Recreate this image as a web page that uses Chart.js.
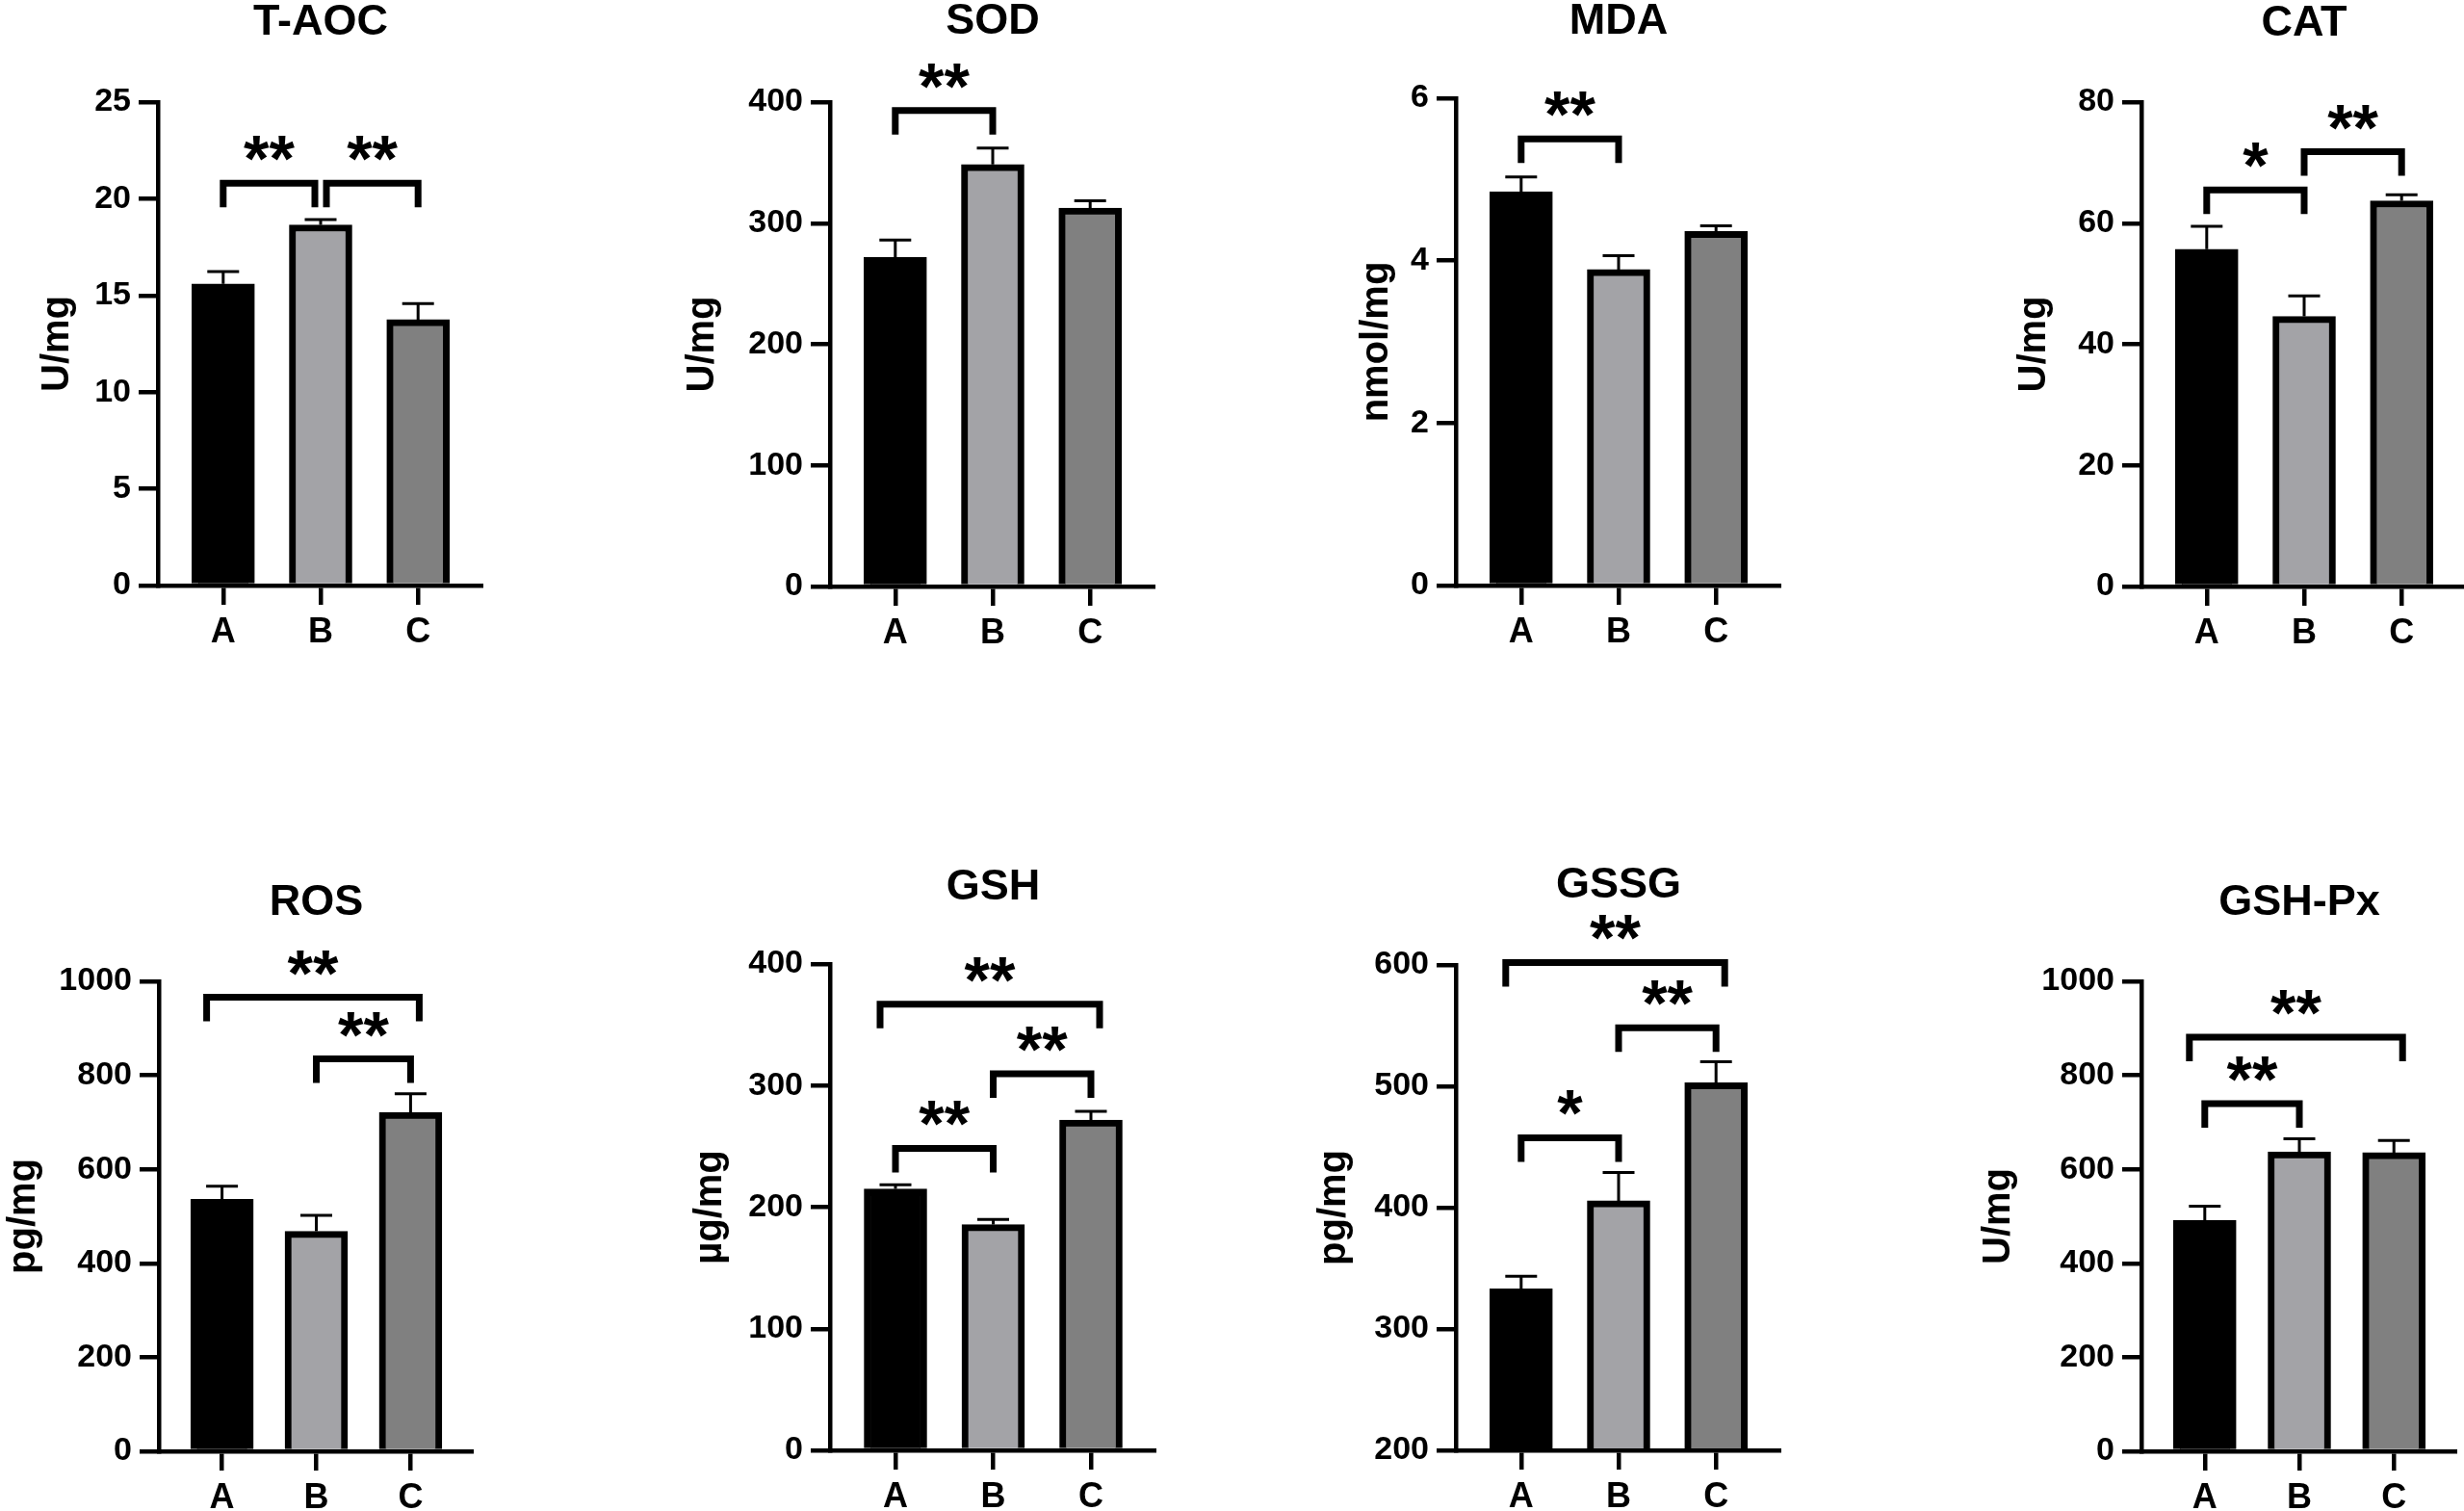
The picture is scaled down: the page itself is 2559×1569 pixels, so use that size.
<!DOCTYPE html>
<html>
<head>
<meta charset="utf-8">
<title>Oxidative stress panels</title>
<script src="https://cdn.jsdelivr.net/npm/chart.js@4.4.0/dist/chart.umd.min.js"></script>
<style>
  html, body { margin: 0; padding: 0; background: #fff; }
  body { position: relative; width: 2559px; height: 1569px; overflow: hidden; }
  canvas { position: absolute; }
</style>
</head>
<body>
<script>
// groups on every x axis
const groups = ["A", "B", "C"];

// T-AOC
const tAocMean = [15.6, 18.65, 13.75];
const tAocSem = [0.63, 0.27, 0.83];
const tAocTicks = [0, 5, 10, 15, 20, 25];
const tAocSig = [[0, 1, 20.8, "**"], [1, 2, 20.8, "**"]];

// SOD
const sodMean = [272, 348.5, 312.5];
const sodSem = [14, 13.5, 6];
const sodTicks = [0, 100, 200, 300, 400];
const sodSig = [[0, 1, 393, "**"]];

// MDA
const mdaMean = [4.85, 3.89, 4.36];
const mdaSem = [0.18, 0.17, 0.07];
const mdaTicks = [0, 2, 4, 6];
const mdaSig = [[0, 1, 5.5, "**"]];

// CAT
const catMean = [55.7, 44.6, 63.7];
const catSem = [3.8, 3.4, 1.0];
const catTicks = [0, 20, 40, 60, 80];
const catSig = [[0, 1, 65.5, "*"], [1, 2, 71.8, "**"]];

// ROS
const rosMean = [536, 468, 721];
const rosSem = [28, 34, 40];
const rosTicks = [0, 200, 400, 600, 800, 1000];
const rosSig = [[0, 2, 966, "**"], [1, 2, 835, "**"]];

// GSH
const gshMean = [215, 185.7, 271.7];
const gshSem = [3.5, 4.3, 7.2];
const gshTicks = [0, 100, 200, 300, 400];
const gshSig = [[0, 2, 367, "**"], [1, 2, 309.7, "**"], [0, 1, 248.4, "**"]];

// GSSG
const gssgMean = [333, 405.6, 503];
const gssgSem = [10.4, 23.3, 17.3];
const gssgTicks = [200, 300, 400, 500, 600];
const gssgSig = [[0, 2, 602, "**"], [1, 2, 548.3, "**"], [0, 1, 457.6, "*"]];

// GSH-Px
const gpxMean = [491.7, 637.3, 635.4];
const gpxSem = [29.7, 27.8, 26];
const gpxTicks = [0, 200, 400, 600, 800, 1000];
const gpxSig = [[0, 2, 881, "**"], [0, 1, 740, "**"]];

const FONT = '"Liberation Sans", Arial, sans-serif';
Chart.defaults.font.family = FONT;
Chart.defaults.color = "#000";

const barFill = ["#000000", "#a3a3a7", "#808080"];
const W_Y = 180, H_X = 70, TITLE_SIZE = 45, UNIT_SIZE = 40, AXIS_W = 4.5;

// where each panel sits on the page (pixels)
const panels = [
  { title: "T-AOC", unit: "U/mg", mean: tAocMean, sem: tAocSem, ticks: tAocTicks, sig: tAocSig,
    box: { axis: 164, right: 502, top: 106, bottom: 608, titleY: 23, unitX: 60 } },
  { title: "SOD", unit: "U/mg", mean: sodMean, sem: sodSem, ticks: sodTicks, sig: sodSig,
    box: { axis: 862, right: 1200, top: 106, bottom: 609, titleY: 22, unitX: 730 } },
  { title: "MDA", unit: "nmol/mg", mean: mdaMean, sem: mdaSem, ticks: mdaTicks, sig: mdaSig,
    box: { axis: 1512, right: 1850, top: 102, bottom: 608, titleY: 22, unitX: 1430 } },
  { title: "CAT", unit: "U/mg", mean: catMean, sem: catSem, ticks: catTicks, sig: catSig,
    box: { axis: 2224, right: 2562, top: 106, bottom: 609, titleY: 24, unitX: 2113 } },
  { title: "ROS", unit: "pg/mg", mean: rosMean, sem: rosSem, ticks: rosTicks, sig: rosSig,
    box: { axis: 165, right: 492, top: 1019, bottom: 1507, titleY: 937, unitX: 25 } },
  { title: "GSH", unit: "\u00b5g/mg", mean: gshMean, sem: gshSem, ticks: gshTicks, sig: gshSig,
    box: { axis: 862, right: 1201, top: 1001, bottom: 1506, titleY: 921, unitX: 738 } },
  { title: "GSSG", unit: "pg/mg", mean: gssgMean, sem: gssgSem, ticks: gssgTicks, sig: gssgSig,
    box: { axis: 1512, right: 1850, top: 1002, bottom: 1506, titleY: 919, unitX: 1386 } },
  { title: "GSH-Px", unit: "U/mg", mean: gpxMean, sem: gpxSem, ticks: gpxTicks, sig: gpxSig,
    box: { axis: 2224, right: 2552, top: 1019, bottom: 1507, titleY: 937, unitX: 2076 } },
];

// error caps (upper only) and significance brackets
function marksPlugin(p) {
  return {
    id: "marks",
    afterDatasetsDraw(chart) {
      const ctx = chart.ctx, x = chart.scales.x, y = chart.scales.y;
      const bars = chart.getDatasetMeta(0).data;
      ctx.save();
      ctx.strokeStyle = "#000";
      ctx.fillStyle = "#000";
      ctx.lineCap = "butt";

      ctx.lineWidth = 3;
      p.mean.forEach((m, i) => {
        const bx = bars[i].x;
        const y0 = y.getPixelForValue(m);
        const y1 = y.getPixelForValue(m + p.sem[i]);
        ctx.beginPath();
        ctx.moveTo(bx, y0);
        ctx.lineTo(bx, y1);
        ctx.moveTo(bx - 16.5, y1);
        ctx.lineTo(bx + 16.5, y1);
        ctx.stroke();
      });

      ctx.lineWidth = 7;
      ctx.lineJoin = "miter";
      ctx.font = "bold 68px " + FONT;
      ctx.textAlign = "center";
      ctx.textBaseline = "alphabetic";
      p.sig.forEach((s) => {
        const [a, c, v, label] = s;
        let l = x.getPixelForValue(a), r = x.getPixelForValue(c);
        if (c - a > 1) {
          l -= 16; r += 9;
        } else {
          // two brackets meeting on the same bar at the same height
          if (p.sig.some(o => o !== s && o[1] === a && o[2] === v)) l += 6;
          if (p.sig.some(o => o !== s && o[0] === c && o[2] === v)) r -= 6;
        }
        const yl = y.getPixelForValue(v);
        ctx.beginPath();
        ctx.moveTo(l, yl + 25);
        ctx.lineTo(l, yl);
        ctx.lineTo(r, yl);
        ctx.lineTo(r, yl + 25);
        ctx.stroke();
        const m = ctx.measureText(label);
        ctx.fillText(label, (l + r) / 2, yl - 23 - m.actualBoundingBoxDescent);
      });
      ctx.restore();
    }
  };
}

function makePanel(p) {
  const b = p.box;
  const left = b.axis - W_Y;
  const top = Math.round(b.titleY - TITLE_SIZE / 2);
  const w = b.right - left;
  const h = b.bottom - top + H_X;

  const cv = document.createElement("canvas");
  cv.width = w;
  cv.height = h;
  cv.style.left = left + "px";
  cv.style.top = top + "px";
  cv.style.width = w + "px";
  cv.style.height = h + "px";
  document.body.appendChild(cv);

  const axisGrid = { display: true, drawOnChartArea: false, drawTicks: true, tickLength: 20,
                     lineWidth: AXIS_W, color: "#000", offset: false, z: 1 };
  const axisBorder = { display: true, width: AXIS_W, color: "#000", z: 1 };

  new Chart(cv, {
    type: "bar",
    data: {
      datasets: [{
        data: p.mean.map((v, i) => ({ x: i, y: v })),
        backgroundColor: barFill,
        borderColor: "#000",
        borderWidth: 7,
        borderSkipped: "start",
        barThickness: 65,
      }]
    },
    options: {
      responsive: false,
      animation: false,
      devicePixelRatio: 1,
      layout: { padding: 0 },
      plugins: {
        legend: { display: false },
        tooltip: { enabled: false },
        title: {
          display: true, text: p.title, fullSize: false, color: "#000",
          font: { size: TITLE_SIZE, weight: "bold", lineHeight: 1 },
          padding: { top: 0, bottom: b.top - top - TITLE_SIZE }
        }
      },
      scales: {
        x: {
          type: "linear", min: -0.67, max: 2.67, offset: false,
          afterBuildTicks: (s) => { s.ticks = groups.map((g, i) => ({ value: i })); },
          afterFit: (s) => { s.height = H_X; },
          ticks: { callback: (v) => groups[v], color: "#000", autoSkip: false, maxRotation: 0,
                   font: { size: 36, weight: "bold" }, padding: 7 },
          grid: axisGrid,
          border: axisBorder
        },
        y: {
          type: "linear", min: p.ticks[0], max: p.ticks[p.ticks.length - 1],
          afterBuildTicks: (s) => { s.ticks = p.ticks.map(v => ({ value: v })); },
          afterFit: (s) => { s.width = W_Y; },
          ticks: { callback: (v) => String(v), color: "#000",
                   font: { size: 34, weight: "bold" }, padding: 8 },
          grid: axisGrid,
          border: axisBorder,
          title: {
            display: true, text: p.unit, color: "#000",
            font: { size: UNIT_SIZE, weight: "bold", lineHeight: 1 },
            padding: { top: W_Y - (b.axis - b.unitX) - UNIT_SIZE / 2, bottom: 0 }
          }
        }
      }
    },
    plugins: [marksPlugin(p)]
  });
}

panels.forEach(makePanel);
</script>
</body>
</html>
